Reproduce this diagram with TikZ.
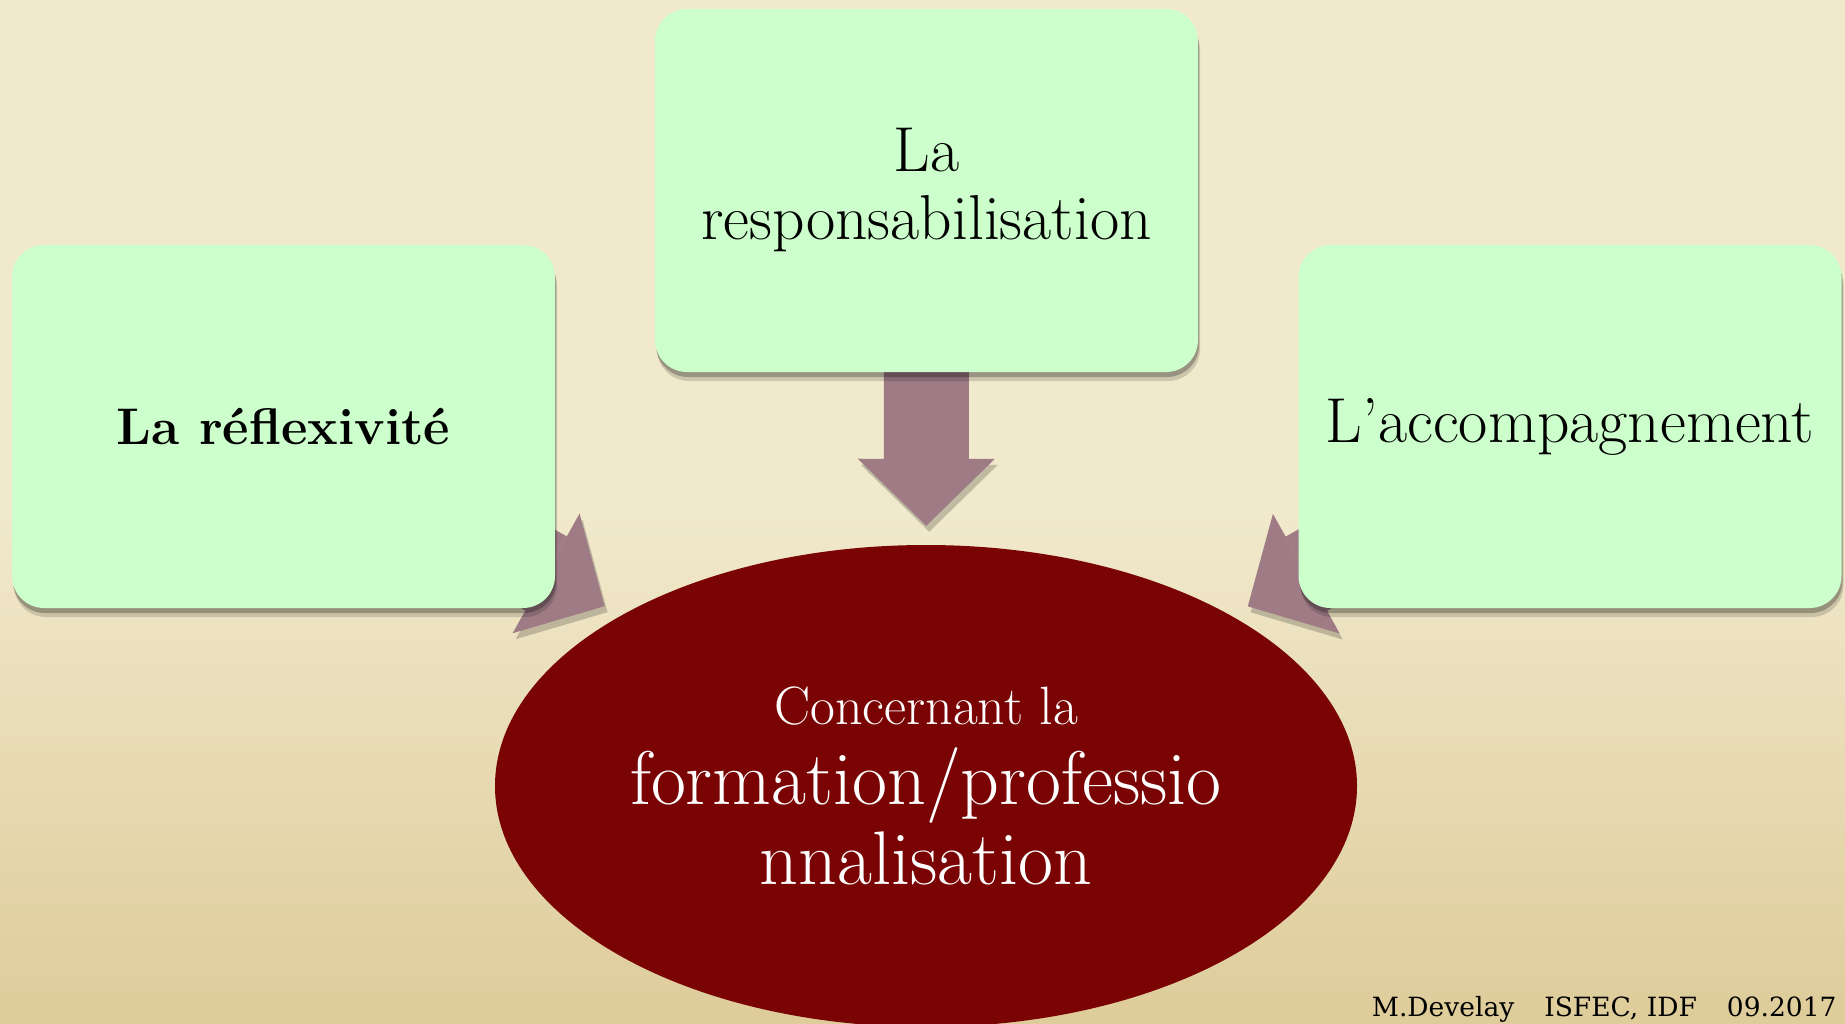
\documentclass[tikz,border=0pt]{standalone}
\usepackage{fontspec}
\usepackage{tikz}
\usetikzlibrary{shapes,arrows.meta,positioning,calc,shadows}
\newfontfamily\footfont{DejaVu Serif}
\definecolor{box-green}{RGB}{204,255,204}
\definecolor{dark-red}{RGB}{122,3,3}
\definecolor{mauve}{RGB}{158,123,133}
\definecolor{paper-light}{RGB}{241,233,204}
\definecolor{paper-dark}{RGB}{222,204,154}
\pgfdeclarelayer{paper}
\pgfdeclarelayer{behind}
\pgfsetlayers{paper,behind,main}

\begin{document}
\begin{tikzpicture}[x=1pt, y=-1pt,
    block/.style={rectangle, fill=box-green, rounded corners=32pt, minimum width=543pt, minimum height=363pt, align=center, font=\fontsize{63.5}{68}\selectfont,
        drop shadow={shadow xshift=2pt, shadow yshift=-9pt, opacity=0.15, fill=black},
        drop shadow={shadow xshift=1pt, shadow yshift=-5pt, opacity=0.25, fill=black}},
    goal/.style={ellipse, fill=dark-red, text=white, minimum width=862pt, minimum height=482pt, align=center, font=\fontsize{76}{80}\selectfont},
    arrow/.style={-{Triangle[length=67pt, width=137pt, line width=0pt]}, line width=85pt, draw=mauve, shorten >=19pt,
        preaction={draw=black, opacity=0.2, transform canvas={xshift=3pt, yshift=-6pt}}}]

    \useasboundingbox (0,0) rectangle (1845,1024);
    \begin{pgfonlayer}{paper}
        \fill[top color=paper-light, bottom color=paper-dark, middle color=paper-light] (0,0) rectangle (1845,1024);
    \end{pgfonlayer}

    % Three levers
    \node[block, font=\fontsize{51.5}{60}\selectfont\bfseries] (refl) at (283.5,426.5) {La réflexivité};
    \node[block] (resp) at (926.5,190.5) {La\\responsabilisation};
    \node[block] (accomp) at (1570,426.5) {L’accompagnement};

    % Target
    \node[goal] (conc) at (926,786) {{\fontsize{54}{60}\selectfont Concernant la}\\formation/professio\\nnalisation};

    % Credit line
    \node[anchor=base east, font=\footfont\fontsize{26.5}{30}\selectfont] (credit) at (1840,1016) {M.Develay\hspace{30pt}ISFEC, IDF\hspace{30pt}09.2017};

    % Block arrows towards the target
    \begin{pgfonlayer}{behind}
        \draw[arrow] (resp) -- (conc);
        \draw[arrow] (refl.center) -- (conc);
        \draw[arrow] (accomp.center) -- (conc);
    \end{pgfonlayer}
\end{tikzpicture}
\end{document}
